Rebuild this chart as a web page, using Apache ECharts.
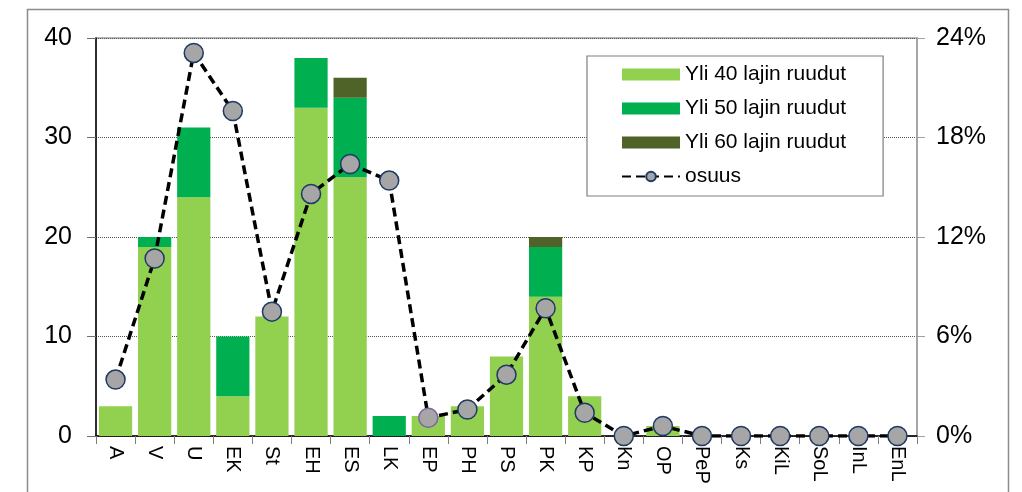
<!DOCTYPE html>
<html>
<head>
<meta charset="utf-8">
<script src="https://cdn.jsdelivr.net/npm/echarts@6/dist/echarts.min.js"></script>
<style>
  html, body { margin: 0; padding: 0; background: #fff; }
  #main { width: 1022px; height: 492px; }
</style>
</head>
<body>
<div id="main"></div>
<script>
// luokat (x-akseli)
var categories = ['A', 'V', 'U', 'EK', 'St', 'EH', 'ES', 'LK', 'EP', 'PH', 'PS', 'PK', 'KP', 'Kn', 'OP', 'PeP', 'Ks', 'KiL', 'SoL', 'InL', 'EnL'];

// pinotut pylväät
var yli40 = [3, 19, 24, 4, 12, 33, 26, 0, 2, 3, 8, 14, 4, 0, 1, 0, 0, 0, 0, 0, 0];
var yli50 = [0, 1, 7, 6, 0, 5, 8, 2, 0, 0, 0, 5, 0, 0, 0, 0, 0, 0, 0, 0, 0];
var yli60 = [0, 0, 0, 0, 0, 0, 2, 0, 0, 0, 0, 1, 0, 0, 0, 0, 0, 0, 0, 0, 0];

// osuus (%), oikea akseli
var osuus = [3.4, 10.7, 23.1, 19.6, 7.5, 14.6, 16.4, 15.4, 1.1, 1.6, 3.7, 7.7, 1.4, 0, 0.6, 0, 0, 0, 0, 0, 0];

var leftTicks = { min: 0, max: 40, interval: 10 };
var rightTicks = { min: 0, max: 24, interval: 6 };

var chart = echarts.init(document.getElementById('main'));

const colors = ['#92d050', '#00b050', '#4f6228', '#000000'];

// EP-pisteellä on violetti reuna kuvassa
var osuusData = osuus.map(function (v, i) {
    if (categories[i] === 'EP') {
        return { value: v, itemStyle: { borderColor: '#8064a2' } };
    }
    return v;
});

var option = {
    color: colors,
    animation: false,
    textStyle: { fontFamily: 'Liberation Sans, Arial, sans-serif' },
    graphic: [
        {
            type: 'rect',
            shape: { x: 27.5, y: 9.5, width: 981, height: 520 },
            style: { fill: 'none', stroke: '#8c8c8c', lineWidth: 1.5 },
            silent: true,
            z: -1
        }
    ],
    grid: {
        left: 96,
        right: 105,
        top: 38,
        bottom: 56,
        show: true,
        borderColor: '#a0a0a0',
        borderWidth: 1.5
    },
    legend: {
        orient: 'vertical',
        left: 587,
        top: 56,
        padding: [8, 37, 9, 34],
        itemGap: 13,
        itemWidth: 58,
        itemHeight: 12,
        borderColor: '#7f7f7f',
        borderWidth: 1.2,
        backgroundColor: '#fff',
        textStyle: { color: '#000', fontSize: 21 },
        data: [
            { name: 'Yli 40 lajin ruudut', icon: 'rect' },
            { name: 'Yli 50 lajin ruudut', icon: 'rect' },
            { name: 'Yli 60 lajin ruudut', icon: 'rect' },
            { name: 'osuus' }
        ]
    },
    xAxis: [
        {
            type: 'category',
            data: categories,
            axisLine: { show: true, lineStyle: { color: '#000', width: 1.5 } },
            axisTick: { show: true, length: 8, lineStyle: { color: '#808080' } },
            axisLabel: {
                rotate: -90,
                color: '#000',
                fontSize: 20,
                margin: 10,
                interval: 0
            }
        }
    ],
    yAxis: [
        {
            type: 'value',
            position: 'left',
            min: leftTicks.min,
            max: leftTicks.max,
            interval: leftTicks.interval,
            axisLine: { show: true, lineStyle: { color: '#000', width: 1.5 } },
            axisTick: { show: true, length: 9, lineStyle: { color: '#707070' } },
            axisLabel: { color: '#000', fontSize: 25, margin: 24 },
            splitLine: {
                show: true,
                lineStyle: { type: 'dotted', color: '#555555', width: 1 }
            }
        },
        {
            type: 'value',
            position: 'right',
            min: rightTicks.min,
            max: rightTicks.max,
            interval: rightTicks.interval,
            axisLine: { show: true, lineStyle: { color: '#a0a0a0', width: 1.5 } },
            axisTick: { show: true, length: 8, lineStyle: { color: '#a0a0a0' } },
            axisLabel: { formatter: '{value}%', color: '#000', fontSize: 25, margin: 19 },
            splitLine: { show: false }
        }
    ],
    series: [
        {
            name: 'Yli 40 lajin ruudut',
            type: 'bar',
            stack: 'ruudut',
            barCategoryGap: '15%',
            data: yli40
        },
        {
            name: 'Yli 50 lajin ruudut',
            type: 'bar',
            stack: 'ruudut',
            data: yli50
        },
        {
            name: 'Yli 60 lajin ruudut',
            type: 'bar',
            stack: 'ruudut',
            data: yli60
        },
        {
            name: 'osuus',
            type: 'line',
            yAxisIndex: 1,
            symbol: 'circle',
            symbolSize: 19,
            z: 5,
            lineStyle: { color: '#000', width: 3.5, type: [9, 5] },
            itemStyle: { color: '#a6a6a6', borderColor: '#1f3864', borderWidth: 1.5 },
            data: osuusData
        }
    ]
};

chart.setOption(option);
</script>
</body>
</html>
